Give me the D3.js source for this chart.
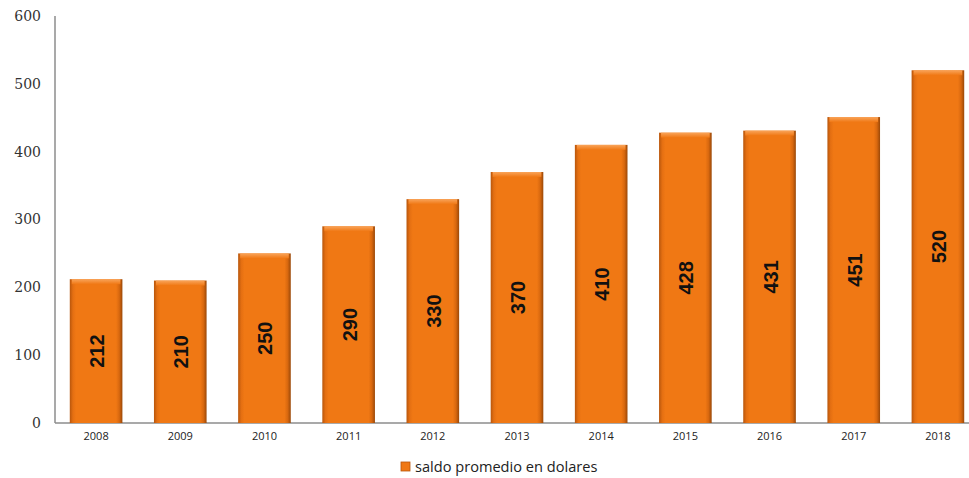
<!DOCTYPE html>
<html>
<head>
<meta charset="utf-8">
<script src="https://cdn.jsdelivr.net/npm/d3@7"></script>
<style>
  html, body { margin: 0; padding: 0; background: #fff; }
  svg { display: block; }
</style>
</head>
<body>
<svg id="chart" width="969" height="478"></svg>
<script>
// Average balance per year, in dollars
const years = ["2008", "2009", "2010", "2011", "2012", "2013", "2014", "2015", "2016", "2017", "2018"];
const saldo = [212, 210, 250, 290, 330, 370, 410, 428, 431, 451, 520];
const yTicks = [0, 100, 200, 300, 400, 500, 600];
const seriesName = "saldo promedio en dolares";

(function () {
const svg = d3.select("#chart");
const W = 969;
const plotLeft = 55, plotTop = 16, plotBottom = 423;

const x = d3.scaleBand().domain(years).range([54, 980]).paddingInner(0.375).paddingOuter(0.1875);
const y = d3.scaleLinear().domain([0, 600]).range([plotBottom, plotTop]);

// Bevel-like shading for the bars
const defs = svg.append("defs");
const hg = defs.append("linearGradient").attr("id", "barH").attr("x1", 0).attr("x2", 1).attr("y1", 0).attr("y2", 0);
hg.append("stop").attr("offset", "0").attr("stop-color", "#b8560c");
hg.append("stop").attr("offset", "0.06").attr("stop-color", "#e46f12");
hg.append("stop").attr("offset", "0.12").attr("stop-color", "#f07814");
hg.append("stop").attr("offset", "0.88").attr("stop-color", "#f07814");
hg.append("stop").attr("offset", "0.94").attr("stop-color", "#d8680f");
hg.append("stop").attr("offset", "1").attr("stop-color", "#9a4808");
const tg = defs.append("linearGradient").attr("id", "barTop").attr("x1", 0).attr("x2", 0).attr("y1", 0).attr("y2", 1);
tg.append("stop").attr("offset", "0").attr("stop-color", "#f9a45a");
tg.append("stop").attr("offset", "1").attr("stop-color", "#f07814");

// Axes
const yAxis = svg.append("g").attr("transform", `translate(${plotLeft},0)`)
  .call(d3.axisLeft(y).tickValues(yTicks).tickSize(0).tickPadding(14));
yAxis.select(".domain").attr("stroke", "#8c8c8c").attr("stroke-width", 1.5)
  .attr("d", `M0,${plotTop}V${plotBottom}`);
yAxis.selectAll("text").attr("font-family", "'DejaVu Serif', serif").attr("font-size", 14).attr("fill", "#333");

const xAxis = svg.append("g").attr("transform", `translate(0,${plotBottom})`)
  .call(d3.axisBottom(x).tickSize(0).tickPadding(9));
xAxis.select(".domain").attr("stroke", "#8c8c8c").attr("stroke-width", 1.5)
  .attr("d", `M${plotLeft},0H${W}`);
xAxis.selectAll("text").attr("font-family", "'Open Sans', sans-serif").attr("font-size", 11).attr("fill", "#222");

// Bars
const bars = svg.append("g").selectAll("g.bar").data(years).join("g").attr("class", "bar");
bars.append("rect")
  .attr("x", d => x(d)).attr("width", x.bandwidth())
  .attr("y", (d, i) => y(saldo[i])).attr("height", (d, i) => plotBottom - y(saldo[i]))
  .attr("fill", "url(#barH)");
bars.append("rect")
  .attr("x", d => x(d) + 2).attr("width", x.bandwidth() - 4)
  .attr("y", (d, i) => y(saldo[i])).attr("height", 5)
  .attr("fill", "url(#barTop)");

// Value labels, rotated, centred in each bar
bars.append("text")
  .attr("transform", (d, i) => `translate(${x(d) + x.bandwidth() / 2 + 1},${(y(saldo[i]) + plotBottom) / 2}) rotate(-90)`)
  .attr("text-anchor", "middle").attr("dominant-baseline", "central")
  .attr("font-family", "'Liberation Sans Narrow', 'Arial Narrow', sans-serif")
  .attr("font-weight", "bold").attr("font-size", 20).attr("fill", "#111")
  .text((d, i) => saldo[i]);

// Legend
const lg = svg.append("g").attr("transform", "translate(401,462)");
lg.append("rect").attr("width", 9).attr("height", 9).attr("fill", "#f07814").attr("stroke", "#b8560c").attr("stroke-width", 0.8);
lg.append("text").attr("x", 14).attr("y", 10)
  .attr("font-family", "'Open Sans', sans-serif").attr("font-size", 14.6).attr("fill", "#222")
  .text(seriesName);
})();
</script>
</body>
</html>
